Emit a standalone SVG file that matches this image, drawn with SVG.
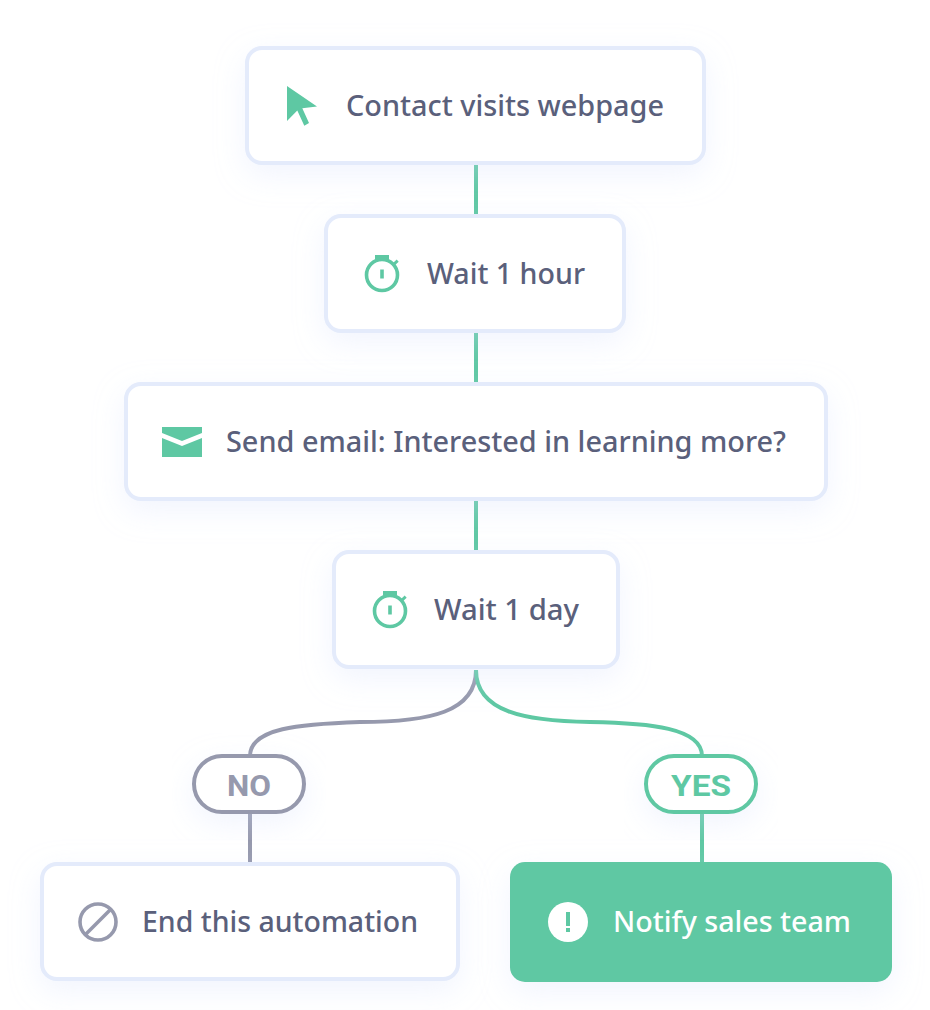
<svg xmlns="http://www.w3.org/2000/svg" width="930" height="1010" viewBox="0 0 930 1010">
<defs>
<filter id="sh" x="-20%" y="-40%" width="140%" height="190%"><feDropShadow dx="0" dy="10" stdDeviation="15" flood-color="#d0dbfa" flood-opacity="0.3"/></filter>
<g id="timer"><circle cx="0" cy="2" r="15.500" fill="none" stroke="#5ec8a3" stroke-width="3.600"/><rect x="-7" y="-18" width="14" height="4.500" fill="#5ec8a3"/><rect x="-1.800" y="-3.500" width="3.600" height="9" fill="#5ec8a3"/><path d="M11-8L15.700-12.300" stroke="#5ec8a3" stroke-width="3" fill="none"/></g>
</defs>
<style>
.box{fill:#fff;stroke:#e4ebfb;stroke-width:4;filter:url(#sh)}
.lbl{font-family:"Noto Sans","Open Sans",sans-serif;font-size:28px;font-weight:500;fill:#5a607b}
.pill{fill:#fff;stroke-width:4;filter:url(#sh)}
.tag{font-family:Roboto,"Noto Sans",sans-serif;font-size:30px;font-weight:700}
.con{fill:none;stroke-width:4}
.g{stroke:#5ec8a3}.n{stroke:#9699ad}
</style>
<rect width="930" height="1010" fill="#fff"/>
<g id="connectors">
<path class="con g" d="M476 165V215M476 333V383M476 501V551"/>
<path class="con n" d="M476 670C476 712 430 722 360 722C300 724 250 728 250 756"/>
<path class="con g" d="M476 670C476 712 525 721 590 722C650 723 702 728 702 756"/>
<path class="con n" d="M250 812V863"/>
<path class="con g" d="M702 812V863"/>
</g>
<g id="node-visit"><rect class="box" x="247" y="48" width="457" height="115" rx="15"/>
<path d="M287 86L317 106.500L302.300 108.300L309 123L304.300 125.700L297.300 110.500L287 121Z" fill="#5ec8a3"/>
<text class="lbl" x="346" y="116" textLength="318" lengthAdjust="spacingAndGlyphs">Contact visits webpage</text></g>
<g id="node-wait-hour"><rect class="box" x="326" y="216" width="298" height="115" rx="15"/>
<use href="#timer" x="382" y="273"/>
<text class="lbl" x="427" y="284" textLength="158" lengthAdjust="spacingAndGlyphs">Wait 1 hour</text></g>
<g id="node-email"><rect class="box" x="126" y="384" width="700" height="115" rx="15"/>
<path d="M162 427H202V433L182 441L162 433ZM162 438L182 446L202 438V457H162Z" fill="#5ec8a3"/>
<text class="lbl" x="226" y="452" textLength="560" lengthAdjust="spacingAndGlyphs">Send email: Interested in learning more?</text></g>
<g id="node-wait-day"><rect class="box" x="334" y="552" width="284" height="115" rx="15"/>
<use href="#timer" x="390" y="609"/>
<text class="lbl" x="434" y="620" textLength="145" lengthAdjust="spacingAndGlyphs">Wait 1 day</text></g>
<g id="node-no"><rect class="pill n" x="194" y="756" width="110" height="56" rx="28"/>
<text class="tag" x="227" y="796" fill="#9699ad" textLength="44" lengthAdjust="spacingAndGlyphs">NO</text></g>
<g id="node-yes"><rect class="pill g" x="646" y="756" width="110" height="56" rx="28"/>
<text class="tag" x="671" y="796" fill="#5ec8a3" textLength="60" lengthAdjust="spacingAndGlyphs">YES</text></g>
<g id="node-end"><rect class="box" x="42" y="864" width="416" height="115" rx="15"/>
<circle cx="98" cy="922" r="18" fill="none" stroke="#9699ad" stroke-width="3.600"/><path d="M86 934L110 910" stroke="#9699ad" stroke-width="3.600"/>
<text class="lbl" x="142" y="932" textLength="276" lengthAdjust="spacingAndGlyphs">End this automation</text></g>
<g id="node-notify"><rect x="510" y="862" width="382" height="120" rx="15" fill="#5ec8a3" filter="url(#sh)"/>
<circle cx="568" cy="922" r="20" fill="#fff"/><rect x="566" y="912" width="4" height="14" fill="#5ec8a3"/><rect x="566" y="928" width="4" height="4" fill="#5ec8a3"/>
<text class="lbl" x="613" y="932" textLength="238" lengthAdjust="spacingAndGlyphs" style="fill:#fff">Notify sales team</text></g>
</svg>
